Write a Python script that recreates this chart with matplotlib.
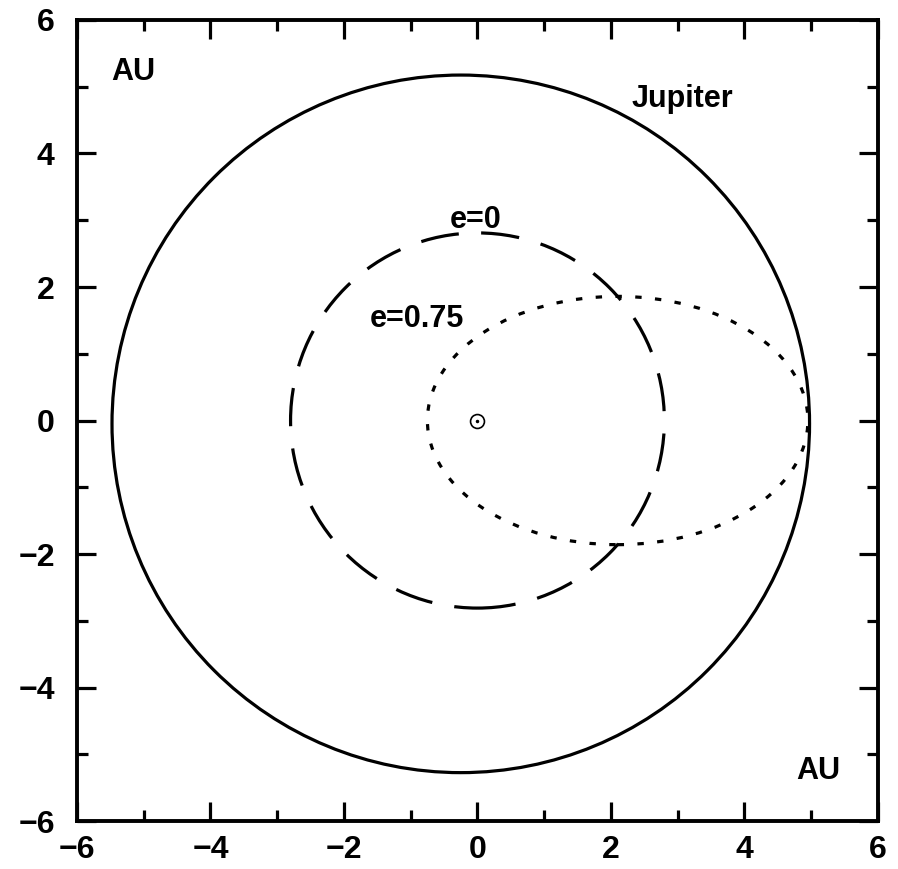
import matplotlib
matplotlib.use("Agg")
import matplotlib.pyplot as plt
from matplotlib.patches import Ellipse

plt.rcParams['font.family'] = ['Liberation Sans', 'DejaVu Sans']

# orbit parameters (AU): centre x, centre y, full width, full height
orbit_names = ["Jupiter", "e=0", "e=0.75"]
orbit_cx = [-0.25, 0.0, 2.1]
orbit_cy = [-0.05, 0.0, 0.0]
orbit_w = [10.45, 5.6, 5.7]
orbit_h = [10.45, 5.62, 3.72]

# label positions
label_text = ["AU", "Jupiter", "e=0", "e=0.75", "AU"]
label_x = [-5.15, 3.07, -0.03, -0.9, 5.1]
label_y = [5.22, 4.82, 3.0, 1.52, -5.25]

ticks = [-6, -4, -2, 0, 2, 4, 6]

# --- figure
fig = plt.figure(figsize=(8.98, 8.69), dpi=100)
ax = fig.add_axes([0.0857, 0.0552, 0.892, 0.9218])

styles = [dict(linestyle="-"),
          dict(linestyle=(0, (12, 7))),
          dict(linestyle=(0, (2, 4.2)))]

for cx, cy, w, h, st in zip(orbit_cx, orbit_cy, orbit_w, orbit_h, styles):
    ax.add_patch(Ellipse((cx, cy), w, h, fill=False, color="black",
                         linewidth=2.3, **st))

# the Sun
ax.plot([0], [0], marker="o", markersize=10, markerfacecolor="none",
        markeredgecolor="black", markeredgewidth=1.2)
ax.plot([0], [0], marker="o", markersize=1.5, color="black")

for t, x, y in zip(label_text, label_x, label_y):
    ax.text(x, y, t, fontsize=22, fontweight="bold", ha="center", va="center")

ax.set_xlim(-6, 6)
ax.set_ylim(-6, 6)
ax.set_xticks(ticks)
ax.set_yticks(ticks)
ax.set_xticks(range(-5, 6, 2), minor=True)
ax.set_yticks(range(-5, 6, 2), minor=True)
ax.tick_params(which="both", direction="in", top=True, right=True,
               labelsize=23, width=2.3)
ax.tick_params(axis="x", which="major", pad=10)
ax.tick_params(axis="y", which="major", pad=16)
ax.tick_params(which="major", length=14)
ax.tick_params(which="minor", length=8)
for lab in ax.get_xticklabels() + ax.get_yticklabels():
    lab.set_fontweight("bold")
for s in ax.spines.values():
    s.set_linewidth(2.8)

fig.savefig("out.png", dpi=100)
